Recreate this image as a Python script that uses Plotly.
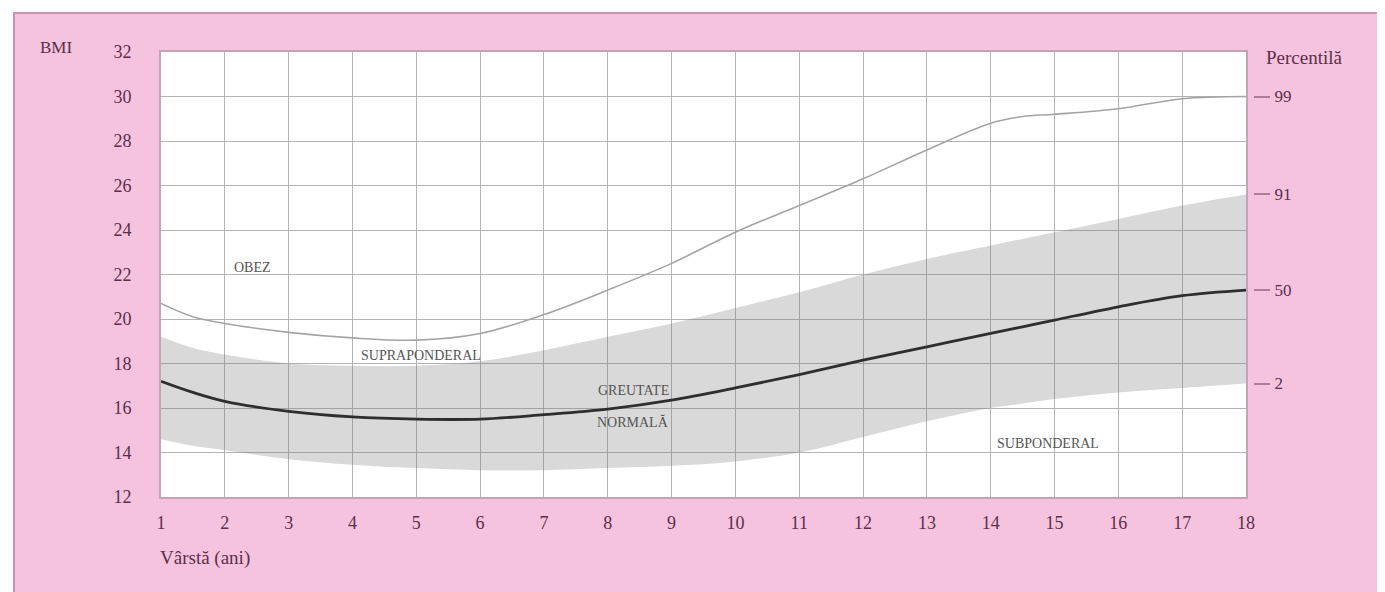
import plotly.graph_objects as go

# ---- data ----
ages = [1, 1.5, 2, 3, 4, 5, 6, 7, 8, 9, 10, 11, 12, 13, 14, 14.5, 15, 16, 17, 18]
p99 = [20.7, 20.1, 19.8, 19.4, 19.15, 19.05, 19.35, 20.2, 21.3, 22.5, 23.9, 25.1, 26.3, 27.6, 28.8, 29.1, 29.2, 29.45, 29.9, 30.0]
p91 = [19.2, 18.7, 18.4, 18.0, 17.9, 17.9, 18.1, 18.6, 19.2, 19.8, 20.5, 21.2, 22.0, 22.7, 23.3, 23.6, 23.9, 24.5, 25.1, 25.6]
p50 = [17.2, 16.7, 16.3, 15.85, 15.6, 15.5, 15.5, 15.7, 15.95, 16.35, 16.9, 17.5, 18.15, 18.75, 19.35, 19.65, 19.95, 20.55, 21.05, 21.3]
p02 = [14.6, 14.3, 14.1, 13.7, 13.45, 13.3, 13.2, 13.2, 13.3, 13.4, 13.6, 14.0, 14.7, 15.4, 16.0, 16.2, 16.4, 16.7, 16.9, 17.1]
percentile_labels = ["99", "91", "50", "2"]
x_ticks = list(range(1, 19))
y_ticks = list(range(12, 33, 2))
zones = ["OBEZ", "SUPRAPONDERAL", "GREUTATE", "NORMALĂ", "SUBPONDERAL"]
zone_x = [2.43, 5.07, 8.4, 8.4, 14.9]
zone_y = [22.3, 18.35, 16.8, 15.35, 14.4]

W, H = 1385, 592
OFF = 8  # page body margin
PINK = "#f6c3df"
TXT = "#5b2f48"
SERIF = "Liberation Serif, DejaVu Serif, serif"


def px(x):
    return (x - OFF) / W


def py(y):
    return 1 - (y - OFF) / H


fig = go.Figure()
fig.add_trace(go.Scatter(x=ages, y=p02, mode="lines", line=dict(width=0, shape="spline"),
                         hoverinfo="skip", showlegend=False))
fig.add_trace(go.Scatter(x=ages, y=p91, mode="lines", line=dict(width=0, shape="spline"),
                         fill="tonexty", fillcolor="rgba(120,120,120,0.28)",
                         hoverinfo="skip", showlegend=False))
fig.add_trace(go.Scatter(x=ages, y=p99, mode="lines",
                         line=dict(color="#a4a4a4", width=1.6, shape="spline"), showlegend=False))
fig.add_trace(go.Scatter(x=ages, y=p50, mode="lines",
                         line=dict(color="#2e2e2e", width=2.8, shape="spline"), showlegend=False))
fig.add_trace(go.Scatter(x=[ages[0]], y=[p50[0]], yaxis="y2", mode="markers",
                         marker=dict(opacity=0), hoverinfo="skip", showlegend=False))

for t, xx, yy in zip(zones, zone_x, zone_y):
    fig.add_annotation(x=xx, y=yy, text=t, showarrow=False,
                       font=dict(family=SERIF, size=14, color="#555"))

fig.add_annotation(xref="paper", yref="paper", x=px(38), y=py(48), text="BMI",
                   showarrow=False, xanchor="left", yanchor="middle",
                   font=dict(family=SERIF, size=17, color=TXT))
fig.add_annotation(xref="paper", yref="paper", x=px(1264), y=py(57), text="Percentilă",
                   showarrow=False, xanchor="left", yanchor="middle",
                   font=dict(family=SERIF, size=19, color=TXT))
fig.add_annotation(xref="paper", yref="paper", x=px(158), y=py(558), text="Vârstă (ani)",
                   showarrow=False, xanchor="left", yanchor="middle",
                   font=dict(family=SERIF, size=19, color=TXT))

end_vals = [p99[-1], p91[-1], p50[-1], p02[-1]]

fig.update_layout(
    width=W, height=H,
    margin=dict(l=0, r=0, t=0, b=0, autoexpand=False),
    paper_bgcolor=PINK,
    plot_bgcolor="white",
    shapes=[
        dict(type="rect", xref="paper", yref="paper", x0=0, x1=1, y0=py(12), y1=1.01,
             fillcolor="white", line=dict(width=0), layer="below"),
        dict(type="rect", xref="paper", yref="paper", x0=-0.01, x1=px(13), y0=-0.01, y1=1.01,
             fillcolor="white", line=dict(width=0), layer="below"),
        dict(type="line", xref="paper", yref="paper", x0=px(13), x1=1, y0=py(13), y1=py(13),
             line=dict(color="#c895b2", width=2), layer="below"),
        dict(type="line", xref="paper", yref="paper", x0=px(14), x1=px(14), y0=0, y1=py(13),
             line=dict(color="#c895b2", width=2), layer="below"),
    ],
    xaxis=dict(domain=[px(161), px(1246)], range=[1, 18], tickvals=x_ticks, showgrid=True,
               gridcolor="#b3b3b3", gridwidth=1.2, zeroline=False,
               showline=True, linecolor="#c6a2b6", linewidth=2, mirror=True,
               ticks="", ticklabelstandoff=8, automargin=False,
               tickfont=dict(family=SERIF, size=18, color=TXT)),
    yaxis=dict(domain=[py(497), py(52)], range=[12, 32], tickvals=y_ticks, showgrid=True,
               gridcolor="#b3b3b3", gridwidth=1.2, zeroline=False,
               showline=True, linecolor="#c6a2b6", linewidth=2, mirror=True,
               ticks="", ticklabelstandoff=24, automargin=False,
               tickfont=dict(family=SERIF, size=18, color=TXT)),
    yaxis2=dict(overlaying="y", anchor="free", position=px(1253), side="right",
                range=[12, 32], tickvals=end_vals, ticktext=percentile_labels,
                showgrid=False, zeroline=False, showline=False, automargin=False,
                ticks="outside", ticklen=16, tickwidth=1.5, tickcolor="#b07a98",
                ticklabelstandoff=1,
                tickfont=dict(family=SERIF, size=17, color=TXT)),
)

fig.write_html("out.html")
